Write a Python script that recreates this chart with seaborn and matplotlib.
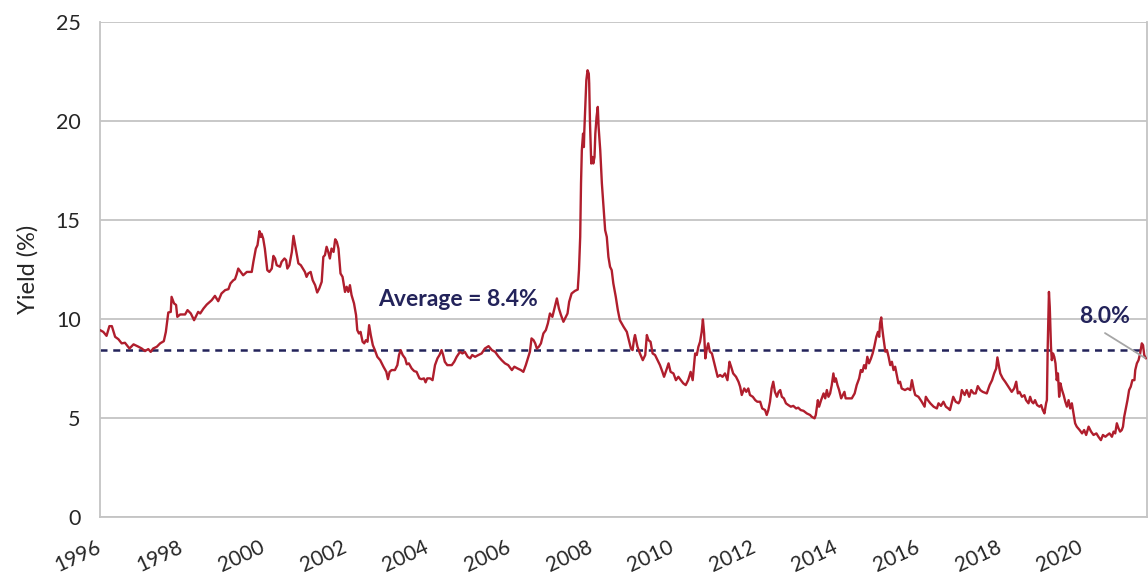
import numpy as np
import pandas as pd
import matplotlib
matplotlib.use("Agg")
import matplotlib.pyplot as plt
import seaborn as sns

# ---- data (decimal year as placed on the chart's axis, yield %) ----
years_a = [1996.00, 1996.08, 1996.16, 1996.23, 1996.29, 1996.37, 1996.45, 1996.53, 1996.61, 1996.72,
           1996.82, 1996.94, 1997.02, 1997.10, 1997.18, 1997.24, 1997.30, 1997.39, 1997.47, 1997.56,
           1997.61, 1997.67, 1997.73, 1997.75, 1997.81, 1997.86, 1997.89, 1997.96, 1998.08, 1998.14,
           1998.22, 1998.30, 1998.40, 1998.45, 1998.53, 1998.61, 1998.73, 1998.81, 1998.89, 1998.97,
           1999.06, 1999.14, 1999.19, 1999.26, 1999.30, 1999.34, 1999.38, 1999.44, 1999.50, 1999.59,
           1999.71, 1999.75, 1999.81, 1999.85, 1999.90, 1999.93, 1999.95, 1999.99, 2000.03, 2000.09,
           2000.14, 2000.20, 2000.24, 2000.28, 2000.32, 2000.40, 2000.44, 2000.51]
yield_a = [9.43, 9.34, 9.14, 9.63, 9.63, 9.09, 8.97, 8.76, 8.79, 8.50,
           8.71, 8.59, 8.50, 8.37, 8.47, 8.33, 8.50, 8.59, 8.76, 8.87,
           9.34, 10.32, 10.35, 11.11, 10.78, 10.70, 10.10, 10.22, 10.22, 10.44,
           10.27, 9.93, 10.35, 10.27, 10.52, 10.72, 10.94, 11.16, 10.89, 11.28,
           11.45, 11.50, 11.79, 11.95, 12.00, 12.24, 12.54, 12.37, 12.20, 12.37,
           12.37, 12.88, 13.55, 13.72, 14.43, 14.14, 14.30, 14.05, 13.55, 12.46,
           12.37, 12.54, 13.18, 13.05, 12.71, 12.63, 12.88, 13.05]

years_b = [2000.55, 2000.58, 2000.63, 2000.69, 2000.73, 2000.77, 2000.81, 2000.85, 2000.91, 2000.96,
           2001.01, 2001.05, 2001.09, 2001.15, 2001.20, 2001.26, 2001.31, 2001.36, 2001.42, 2001.46,
           2001.50, 2001.54, 2001.58, 2001.62, 2001.66, 2001.71, 2001.75, 2001.79, 2001.83, 2001.88,
           2001.93, 2001.99, 2002.03, 2002.07, 2002.11, 2002.15, 2002.21, 2002.26, 2002.29, 2002.33,
           2002.37, 2002.42, 2002.46, 2002.50, 2002.54, 2002.58, 2002.62, 2002.67, 2002.72, 2002.78,
           2002.85, 2002.93, 2003.00, 2003.04, 2003.08, 2003.13, 2003.21, 2003.27, 2003.31, 2003.35,
           2003.40, 2003.46, 2003.50, 2003.55, 2003.62, 2003.68, 2003.74, 2003.81, 2003.86, 2003.92,
           2003.96, 2004.00, 2004.07, 2004.13, 2004.19, 2004.25, 2004.30, 2004.35, 2004.39, 2004.43,
           2004.49, 2004.60, 2004.66, 2004.72, 2004.80]
yield_b = [12.96, 12.54, 12.71, 13.38, 14.19, 13.72, 13.22, 12.80, 12.71, 12.54,
           12.37, 12.12, 12.29, 12.37, 11.95, 11.70, 11.33, 11.53, 11.87, 13.13,
           13.22, 13.64, 13.38, 13.05, 13.55, 13.38, 14.02, 13.89, 13.55, 12.29,
           12.12, 11.36, 11.62, 11.36, 11.70, 11.20, 10.78, 10.19, 9.43, 9.26,
           9.34, 8.84, 8.76, 8.92, 8.84, 9.68, 9.18, 8.67, 8.42, 8.08,
           7.91, 7.58, 7.32, 6.95, 7.32, 7.41, 7.41, 7.66, 8.17, 8.42,
           8.17, 8.00, 7.70, 7.75, 7.49, 7.36, 7.32, 6.99, 6.95, 6.99,
           6.79, 6.99, 6.99, 6.90, 7.66, 8.00, 8.17, 8.42, 8.17, 7.83,
           7.66, 7.66, 7.83, 8.08, 8.33]

years_c = [2004.86, 2004.92, 2004.99, 2005.05, 2005.10, 2005.17, 2005.25, 2005.33, 2005.41, 2005.50,
           2005.58, 2005.66, 2005.74, 2005.82, 2005.90, 2005.98, 2006.07, 2006.13, 2006.21, 2006.29,
           2006.35, 2006.41, 2006.46, 2006.51, 2006.55, 2006.60, 2006.64, 2006.68, 2006.73, 2006.78,
           2006.84, 2006.90, 2006.95, 2007.00, 2007.06, 2007.11, 2007.17, 2007.22, 2007.27, 2007.33,
           2007.39, 2007.43, 2007.47, 2007.53, 2007.61, 2007.68, 2007.71, 2007.74, 2007.76, 2007.78,
           2007.81, 2007.83, 2007.84, 2007.87, 2007.89, 2007.92, 2007.95, 2007.96, 2007.98, 2008.01,
           2008.04, 2008.06, 2008.09, 2008.11, 2008.14, 2008.17, 2008.19, 2008.23, 2008.27, 2008.31,
           2008.35, 2008.39, 2008.43, 2008.47, 2008.51, 2008.55, 2008.61, 2008.66, 2008.71, 2008.80,
           2008.88, 2008.93, 2008.98, 2009.02, 2009.06]
yield_c = [8.25, 8.33, 8.08, 8.00, 8.17, 8.08, 8.17, 8.25, 8.50, 8.62,
           8.42, 8.33, 8.10, 7.91, 7.75, 7.66, 7.41, 7.58, 7.49, 7.41,
           7.32, 7.66, 8.00, 8.33, 9.01, 8.92, 8.76, 8.50, 8.59, 8.76,
           9.26, 9.43, 9.77, 10.27, 10.10, 10.52, 11.03, 10.52, 10.19, 9.85,
           10.10, 10.27, 10.86, 11.28, 11.41, 11.48, 12.46, 14.14, 16.84, 18.52,
           19.36, 18.68, 19.45, 21.05, 22.06, 22.56, 22.39, 21.90, 19.87, 17.85,
           18.18, 17.85, 18.18, 19.36, 20.20, 20.71, 19.70, 18.52, 16.84, 15.66,
           14.48, 14.14, 13.13, 12.63, 12.46, 11.79, 11.11, 10.44, 9.93, 9.60,
           9.34, 8.92, 8.50, 8.42, 9.01]

years_d = [2009.08, 2009.14, 2009.20, 2009.27, 2009.33, 2009.37, 2009.41, 2009.46, 2009.51, 2009.57,
           2009.63, 2009.69, 2009.75, 2009.79, 2009.86, 2009.90, 2009.95, 2010.02, 2010.08, 2010.14,
           2010.20, 2010.26, 2010.32, 2010.38, 2010.44, 2010.49, 2010.55, 2010.59, 2010.63, 2010.67,
           2010.71, 2010.74, 2010.77, 2010.80, 2010.83, 2010.87, 2010.91, 2010.96, 2011.00, 2011.06,
           2011.10, 2011.16, 2011.22, 2011.28, 2011.34, 2011.39, 2011.43, 2011.48, 2011.55, 2011.61,
           2011.65, 2011.69, 2011.75, 2011.80, 2011.85, 2011.89, 2011.96, 2012.02, 2012.07, 2012.14,
           2012.19, 2012.26, 2012.30, 2012.34, 2012.38, 2012.42, 2012.46, 2012.50, 2012.55, 2012.59,
           2012.63, 2012.67, 2012.72, 2012.77, 2012.83, 2012.89, 2012.95, 2013.02, 2013.07, 2013.13,
           2013.20, 2013.28, 2013.36]
yield_d = [9.18, 8.59, 8.25, 7.91, 8.17, 9.18, 8.92, 8.84, 8.25, 8.17,
           7.91, 7.66, 7.32, 7.07, 7.49, 7.75, 7.32, 7.24, 6.90, 7.07,
           6.90, 6.74, 6.65, 6.90, 7.32, 6.90, 8.25, 8.17, 8.59, 8.84,
           9.34, 9.97, 9.26, 8.00, 8.42, 8.76, 8.34, 8.25, 7.91, 7.41,
           7.07, 7.16, 7.07, 7.24, 6.90, 7.83, 7.58, 7.24, 7.07, 6.82,
           6.57, 6.15, 6.48, 6.31, 6.48, 6.15, 6.06, 5.89, 5.81, 5.81,
           5.47, 5.39, 5.14, 5.39, 5.81, 6.48, 6.82, 6.31, 6.06, 6.31,
           6.40, 6.06, 5.98, 5.73, 5.64, 5.56, 5.60, 5.47, 5.51, 5.39,
           5.35, 5.22, 5.14]

years_e = [2013.40, 2013.47, 2013.50, 2013.55, 2013.58, 2013.63, 2013.69, 2013.73, 2013.77, 2013.81,
           2013.85, 2013.89, 2013.93, 2013.96, 2013.99, 2014.03, 2014.07, 2014.12, 2014.16, 2014.20,
           2014.23, 2014.30, 2014.38, 2014.45, 2014.50, 2014.56, 2014.60, 2014.64, 2014.68, 2014.72,
           2014.76, 2014.80, 2014.85, 2014.89, 2014.93, 2014.98, 2015.02, 2015.05, 2015.07, 2015.10,
           2015.12, 2015.15, 2015.20, 2015.24, 2015.28, 2015.32, 2015.36, 2015.40, 2015.44, 2015.48,
           2015.52, 2015.56, 2015.60, 2015.68, 2015.75, 2015.81, 2015.85, 2015.89, 2015.93, 2016.01,
           2016.09, 2016.16, 2016.19, 2016.24, 2016.30, 2016.38, 2016.46, 2016.50, 2016.56, 2016.62,
           2016.68, 2016.74, 2016.78, 2016.82, 2016.86, 2016.92, 2016.99, 2017.03, 2017.07, 2017.14,
           2017.19, 2017.25, 2017.30, 2017.36, 2017.41, 2017.46, 2017.52, 2017.58, 2017.64]
yield_e = [5.05, 4.97, 5.14, 5.89, 5.56, 5.89, 6.23, 5.98, 6.40, 6.06,
           6.23, 6.65, 7.24, 6.82, 6.99, 6.65, 6.40, 5.98, 6.15, 6.31,
           5.98, 5.98, 5.98, 6.23, 6.65, 6.99, 7.41, 7.32, 7.66, 7.49,
           8.08, 7.75, 8.00, 8.25, 8.59, 9.09, 9.34, 9.09, 9.77, 10.07,
           9.60, 9.09, 8.34, 8.42, 8.08, 7.66, 7.83, 7.41, 7.58, 7.16,
           6.74, 6.82, 6.48, 6.40, 6.48, 6.40, 6.90, 6.48, 6.15, 6.06,
           5.81, 5.56, 6.06, 5.89, 5.73, 5.56, 5.47, 5.73, 5.60, 5.81,
           5.56, 5.47, 5.39, 5.73, 6.06, 5.81, 5.73, 5.89, 6.40, 6.15,
           6.40, 6.06, 6.40, 6.23, 6.23, 6.60, 6.40, 6.31, 6.26]

years_f = [2017.68, 2017.75, 2017.81, 2017.86, 2017.91, 2017.94, 2017.98, 2018.01, 2018.07, 2018.13,
           2018.21, 2018.29, 2018.35, 2018.40, 2018.44, 2018.48, 2018.54, 2018.60, 2018.64, 2018.70,
           2018.74, 2018.78, 2018.82, 2018.86, 2018.91, 2018.97, 2019.01, 2019.05, 2019.09, 2019.13,
           2019.15, 2019.17, 2019.20, 2019.22, 2019.25, 2019.27, 2019.30, 2019.33, 2019.36, 2019.39,
           2019.42, 2019.45, 2019.48, 2019.52, 2019.56, 2019.60, 2019.64, 2019.68, 2019.72, 2019.76,
           2019.80, 2019.84, 2019.88, 2019.95, 2020.01, 2020.06, 2020.11, 2020.17, 2020.23, 2020.29,
           2020.36, 2020.41, 2020.47, 2020.52, 2020.58, 2020.63, 2020.68, 2020.74, 2020.78, 2020.82,
           2020.86, 2020.90, 2020.94, 2020.98, 2021.01, 2021.04, 2021.08, 2021.12, 2021.16, 2021.20,
           2021.24, 2021.29, 2021.31, 2021.35, 2021.39, 2021.43, 2021.47, 2021.50, 2021.53, 2021.57]
yield_f = [6.23, 6.65, 6.90, 7.24, 7.49, 8.05, 7.58, 7.24, 6.99, 6.82,
           6.57, 6.31, 6.48, 6.82, 6.23, 6.31, 6.06, 6.14, 5.89, 5.73,
           6.06, 5.81, 5.73, 5.89, 5.64, 5.56, 5.64, 5.39, 5.22, 5.73,
           5.89, 8.59, 11.36, 10.60, 8.59, 7.91, 8.25, 8.08, 7.75, 6.90,
           7.24, 6.06, 6.74, 6.40, 6.14, 5.81, 5.56, 5.89, 5.47, 5.73,
           5.22, 4.72, 4.55, 4.38, 4.21, 4.38, 4.13, 4.55, 4.30, 4.13,
           4.21, 4.04, 3.87, 4.13, 4.04, 4.13, 4.21, 4.04, 4.30, 4.21,
           4.72, 4.47, 4.30, 4.38, 4.55, 5.05, 5.47, 5.89, 6.40, 6.57,
           6.90, 6.90, 7.41, 7.75, 7.91, 8.25, 8.76, 8.67, 8.17, 8.00]

average_yield = 8.4
latest_label = "8.0%"
average_label = "Average = 8.4%"
x_ticks = list(range(1996, 2021, 2))
y_ticks = [0, 5, 10, 15, 20, 25]

df = pd.DataFrame({
    "year": years_a + years_b + years_c + years_d + years_e + years_f,
    "yield": yield_a + yield_b + yield_c + yield_d + yield_e + yield_f,
})

# ---- style ----
sns.set_theme(style="white")
plt.rcParams["font.family"] = ["Lato", "DejaVu Sans"]

RED = "#b01e2d"
NAVY = "#23235a"
GRID = "#c4c4c4"
TXT = "#262626"

fig = plt.figure(figsize=(11.48, 5.76), dpi=100)
ax = fig.add_axes([100 / 1148, 1 - 516.7 / 576, 1046.7 / 1148, (516.7 - 22) / 576])

ax.axhline(average_yield, color=NAVY, lw=1.8, dashes=(2.8, 2.3), zorder=2)
sns.lineplot(data=df, x="year", y="yield", ax=ax, color=RED, lw=1.7, zorder=3,
             estimator=None, sort=False)

ax.set_xlim(1996, 2021.59)
ax.set_ylim(0, 25)
ax.set_yticks(y_ticks)
ax.set_xticks(x_ticks)
ax.set_xticklabels([str(t) for t in x_ticks], rotation=25, ha="right",
                   va="center", rotation_mode="anchor")
ax.tick_params(axis="x", length=0, pad=21, labelsize=15, colors=TXT)
ax.tick_params(axis="y", length=0, pad=14, labelsize=15.5, colors=TXT)
ax.yaxis.grid(True, color=GRID, lw=1.3)
ax.xaxis.grid(False)
for side in ["left", "bottom", "right"]:
    ax.spines[side].set_visible(True)
    ax.spines[side].set_color(GRID)
    ax.spines[side].set_linewidth(1.3)
ax.spines["top"].set_visible(False)

ax.set_xlabel("")
ax.set_ylabel("Yield (%)", fontsize=17, color=TXT, labelpad=12)

ax.text(2004.75, 10.99, average_label, ha="center", va="center",
        fontsize=16.5, fontweight="bold", color=NAVY)
ax.text(2020.57, 10.14, latest_label, ha="center", va="center",
        fontsize=16.5, fontweight="bold", color=NAVY)
ax.plot([2020.57, 2021.55], [9.28, 8.02], color="#a6a6a6", lw=1.3, zorder=4)

fig.savefig("out.png", dpi=100)
